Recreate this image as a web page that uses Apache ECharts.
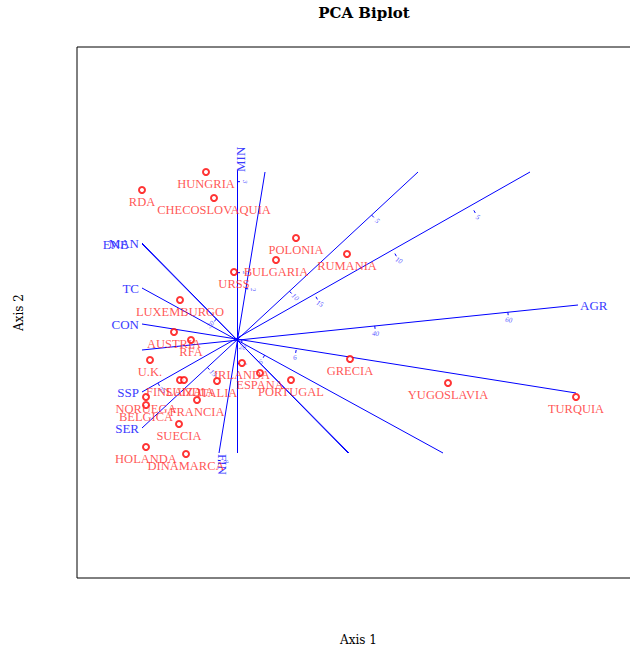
<!DOCTYPE html>
<html><head><meta charset="utf-8">
<script src="https://cdn.jsdelivr.net/npm/echarts@6/dist/echarts.min.js"></script>
<style>html,body{margin:0;padding:0;background:#fff}#c{width:630px;height:651px}</style>
</head><body><div id="c"></div>
<script>
// Row scores (Axis 1, Axis 2)
const countries = ['HUNGRIA','RDA','CHECOSLOVAQUIA','POLONIA','BULGARIA','RUMANIA','URSS','LUXEMBURGO','AUSTRIA','RFA','U.K.','IRLANDA','ESPANA','PORTUGAL','GRECIA','YUGOSLAVIA','TURQUIA','FINLANDIA','SUIZA','ITALIA','NORUEGA','BELGICA','FRANCIA','SUECIA','HOLANDA','DINAMARCA'];
const scoreX = [-0.31,-0.95,-0.23,0.59,0.39,1.10,-0.03,-0.57,-0.63,-0.46,-0.87,0.05,0.23,0.54,1.13,2.11,3.39,-0.57,-0.53,-0.20,-0.91,-0.91,-0.40,-0.58,-0.91,-0.51];
const scoreY = [1.68,1.50,1.42,1.02,0.80,0.86,0.68,0.40,0.08,0.00,-0.20,-0.23,-0.33,-0.40,-0.19,-0.43,-0.57,-0.40,-0.40,-0.41,-0.57,-0.65,-0.60,-0.84,-1.07,-1.14];

// Variable axes: labelled end and opposite end (clipped to the score range)
const variables = ['AGR','MIN','MAN','ENE','CON','SER','FIN','SSP','TC'];
const varEndX  = [3.41, 0.00,-0.95,-0.95,-0.95,-0.95,-0.18,-0.95,-0.95];
const varEndY  = [0.35, 1.70, 0.97, 0.96, 0.16,-0.88,-1.13,-0.52, 0.52];
const varFarX  = [-0.95,0.00, 1.11, 1.12, 3.39, 1.81, 0.28, 2.93, 2.06];
const varFarY  = [-0.10,-1.13,-1.13,-1.13,-0.53, 1.68, 1.68, 1.68,-1.13];
// value of each variable at the origin, plot units per variable unit, tick values
const varCenter = [19.3, 1.26, 26.0, 1.0, 8.0, 13.2, 3.8, 20.0, 6.9];
const varScale  = [0.0669, 0.91, 0.0733, 0.55, 0.30, 0.224, 0.29, 0.18, 0.35];
const varTicks  = [[20,40,60],[1,2,3],[30],[],[6],[5,10,15],[2,8],[5,10,15,25],[6]];
// side on which each variable name is written, and extra shift (ENE and MAN overlap)
const varNameSide  = ['right','up','left','left','left','left','down','left','left'];
const varNameShift = [0,0,0,-11,0,0,0,0,0];

const ticks = [];
variables.forEach((v, i) => {
  const len = Math.hypot(varEndX[i], varEndY[i]);
  const ux = varEndX[i] / len, uy = varEndY[i] / len;
  let rx = ux, ry = uy;
  if (rx < -1e-9 || (Math.abs(rx) < 1e-9 && ry < 0)) { rx = -rx; ry = -ry; }
  varTicks[i].forEach(t => {
    const d = (t - varCenter[i]) * varScale[i];
    ticks.push([ux * d, uy * d, rx, ry, String(t)]);
  });
});

const chart = echarts.init(document.getElementById('c'), null, {renderer: 'svg'});
const serif = 'Liberation Serif, Times New Roman, serif';
const dserif = 'DejaVu Serif, serif';
chart.setOption({
  animation: false,
  title: {text: 'PCA Biplot', left: 359, textAlign: 'center', top: 0,
    textStyle: {fontFamily: dserif, fontSize: 15, fontWeight: 'bold', color: '#000'}},
  grid: {left: 77, top: 47, width: 563, height: 531, show: true, borderColor: '#000', borderWidth: 1,
    backgroundColor: 'transparent', containLabel: false, outerBoundsMode: 'none'},
  xAxis: {type: 'value', min: -1.60, max: 4.03, name: 'Axis 1', nameLocation: 'middle', nameGap: 56,
    nameTextStyle: {fontFamily: dserif, fontSize: 12, color: '#000'},
    axisLine: {show: false}, axisTick: {show: false}, axisLabel: {show: false}, splitLine: {show: false}},
  yAxis: {type: 'value', min: -2.38, max: 2.93, name: 'Axis 2', nameLocation: 'middle', nameGap: 52,
    nameTextStyle: {fontFamily: dserif, fontSize: 12, color: '#000'},
    axisLine: {show: false}, axisTick: {show: false}, axisLabel: {show: false}, splitLine: {show: false}},
  series: [
    {
      type: 'lines', coordinateSystem: 'cartesian2d', silent: true,
      lineStyle: {color: '#0000ff', width: 1, opacity: 1},
      data: variables.map((v, i) => ({coords: [[varEndX[i], varEndY[i]], [varFarX[i], varFarY[i]]]})),
      z: 2
    },
    {
      type: 'custom', coordinateSystem: 'cartesian2d', silent: true, z: 3,
      data: ticks.map(t => [t[0], t[1], t[2], t[3]]),
      renderItem: function (params, api) {
        const p = api.coord([api.value(0), api.value(1)]);
        const rx = api.value(2), ry = api.value(3);
        const nx = ry, ny = rx;
        const ang = Math.atan2(ry, rx);
        return {type: 'group', children: [
          {type: 'line', shape: {x1: p[0], y1: p[1], x2: p[0] + nx * 3, y2: p[1] + ny * 3},
            style: {stroke: '#0000ff', lineWidth: 1}},
          {type: 'text', x: p[0] + nx * 8, y: p[1] + ny * 8, rotation: -ang,
            style: {text: ticks[params.dataIndex][4], fontSize: 7, fontFamily: serif, fontStyle: 'italic',
              fill: '#5555ff', align: 'center', verticalAlign: 'middle'}}
        ]};
      }
    },
    {
      type: 'custom', coordinateSystem: 'cartesian2d', silent: true, z: 4,
      data: variables.map((v, i) => [varEndX[i], varEndY[i]]),
      renderItem: function (params, api) {
        const i = params.dataIndex;
        const p = api.coord([api.value(0), api.value(1)]);
        const st = {text: variables[i], fontSize: 13, fontFamily: serif, fill: '#3a3aff'};
        const side = varNameSide[i];
        if (side === 'left')
          return {type: 'text', x: p[0] - 3 + varNameShift[i], y: p[1], style: Object.assign(st, {align: 'right', verticalAlign: 'middle'})};
        if (side === 'right')
          return {type: 'text', x: p[0] + 2, y: p[1], style: Object.assign(st, {align: 'left', verticalAlign: 'middle'})};
        if (side === 'up')
          return {type: 'text', x: p[0] + 3, y: p[1] + 2, rotation: Math.PI / 2, style: Object.assign(st, {align: 'left', verticalAlign: 'middle'})};
        return {type: 'text', x: p[0] + 3, y: p[1] + 1, rotation: -Math.PI / 2, style: Object.assign(st, {align: 'left', verticalAlign: 'middle'})};
      }
    },
    {
      type: 'scatter', symbol: 'emptyCircle', symbolSize: 6, z: 5, silent: true,
      itemStyle: {color: '#ff0000', borderColor: '#ff0000', borderWidth: 0.8},
      data: countries.map((c, i) => [scoreX[i], scoreY[i]]),
      label: {show: true, position: 'bottom', distance: 1, fontFamily: serif, fontSize: 12.5, color: '#ff2a2a',
        formatter: p => countries[p.dataIndex]}
    }
  ]
});
</script></body></html>
